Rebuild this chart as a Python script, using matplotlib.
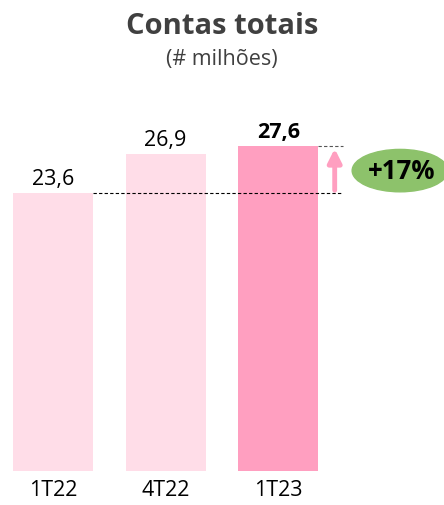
import matplotlib.pyplot as plt
from matplotlib.patches import Ellipse

plt.rcParams['font.family'] = ['Open Sans', 'DejaVu Sans']

periods = ['1T22', '4T22', '1T23']
contas = [23.6, 26.9, 27.6]
labels = ['23,6', '26,9', '27,6']
growth_label = '+17%'
colors = ['#ffdde8', '#ffdde8', '#ff9fc0']

W, H = 444, 506
fig = plt.figure(figsize=(W / 100, H / 100), dpi=100)
# axes spans full width, baseline at pixel 472 from top
ax = fig.add_axes([0, (H - 472) / H, 1, (472 - 118.6) / H])
x = range(len(periods))
ax.bar(x, contas, width=0.71, color=colors)
ax.set_xlim(-0.47, 3.47)
ax.set_ylim(0, 30)
ax.axis('off')

for i, (v, lab) in enumerate(zip(contas, labels)):
    ax.annotate(lab, (i, v), xytext=(0, 3), textcoords='offset points',
                ha='center', va='bottom', fontsize=15.5,
                fontweight='bold' if i == 2 else 'normal', color='black')
    ax.annotate(periods[i], (i, 0), xytext=(0, -6), textcoords='offset points',
                ha='center', va='top', fontsize=15.5, color='black')

# dashed reference lines
xr = 2.57
ax.plot([0.355, xr], [contas[0], contas[0]], ls='--', lw=0.8, color='black', dashes=(3, 2))
ax.plot([2.355, xr], [contas[2], contas[2]], ls='--', lw=0.8, color='#555555', dashes=(3, 2))
ax.annotate('', xy=(2.5, contas[2]), xytext=(2.5, contas[0]),
            arrowprops=dict(arrowstyle='-|>,head_width=0.4,head_length=0.8',
                            color='#ff9fc0', lw=3.5))

ax.add_patch(Ellipse((3.08, 25.5), 0.85, 3.6, color='#8dc26b', zorder=3))
ax.text(3.09, 25.5, growth_label, ha='center', va='center', fontsize=18.5,
        fontweight='bold', color='black', zorder=4)

fig.text(0.5, 1 - 27 / H, 'Contas totais', ha='center', va='center',
         fontsize=21, fontweight='bold', color='#404040')
fig.text(0.5, 1 - 60 / H, '(# milhões)', ha='center', va='center',
         fontsize=15.5, color='#404040')

fig.savefig('out.png', dpi=100)
